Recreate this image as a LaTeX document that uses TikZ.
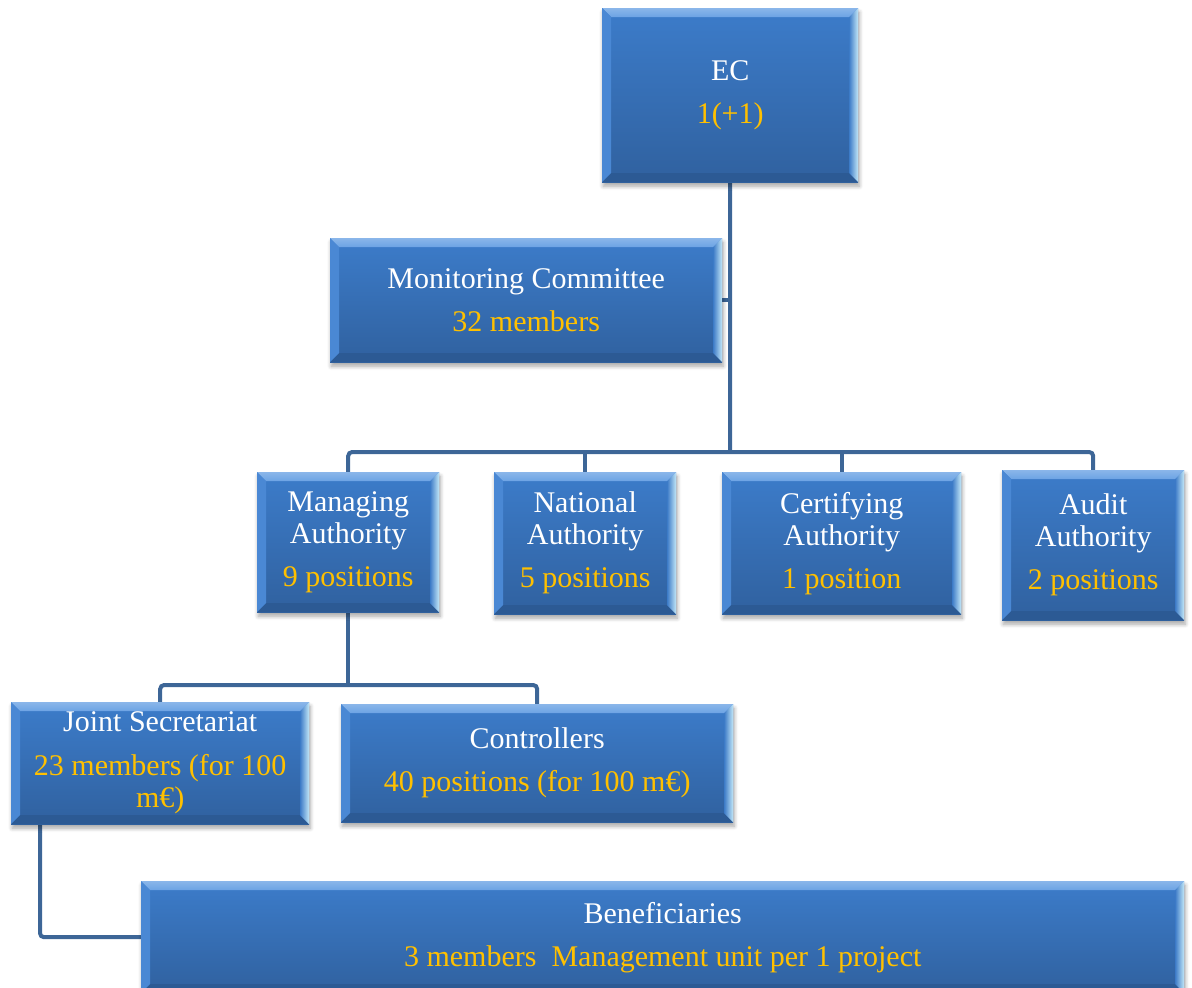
\documentclass[tikz,border=0pt]{standalone}
\usepackage{fontspec}
\setmainfont{Liberation Serif}
\usetikzlibrary{shadows,shadows.blur,backgrounds,calc}

\definecolor{faceTop}{HTML}{3C7CCA}
\definecolor{faceBot}{HTML}{30619F}
\definecolor{bevLight}{HTML}{6CA3E4}
\definecolor{bevLeft}{HTML}{4A88D4}
\definecolor{bevDark}{HTML}{2C5A94}
\definecolor{bevRight}{HTML}{3F7DC8}
\definecolor{edgeGlow}{HTML}{C4E8F8}
\definecolor{gold}{HTML}{FFC000}
\definecolor{linkBlue}{HTML}{3D6697}

\tikzset{
  orgbox/.style={
    rectangle, inner sep=0pt, anchor=north west, draw=none,
    text=white, align=center,
    font=\fontsize{30}{32}\selectfont,
    top color=faceTop, bottom color=faceBot,
    blur shadow={shadow xshift=1pt, shadow yshift=-4pt, shadow blur radius=4pt,
                 shadow blur steps=6, shadow opacity=35},
    path picture={
      \coordinate (bnw) at (path picture bounding box.north west);
      \coordinate (bne) at (path picture bounding box.north east);
      \coordinate (bsw) at (path picture bounding box.south west);
      \coordinate (bse) at (path picture bounding box.south east);
      % bevel faces
      \shade[top color=bevLight!80!white, bottom color=bevLight]
        (bnw) -- (bne) -- ([shift={(-9,9)}]bne) -- ([shift={(9,9)}]bnw) -- cycle;
      \fill[bevLeft] (bnw) -- ([shift={(9,9)}]bnw) -- ([shift={(9,-9)}]bsw) -- (bsw) -- cycle;
      \fill[bevDark] (bsw) -- ([shift={(9,-9)}]bsw) -- ([shift={(-9,-9)}]bse) -- (bse) -- cycle;
      \shade[left color=bevRight, right color=edgeGlow]
        (bne) -- (bse) -- ([shift={(-9,-9)}]bse) -- ([shift={(-9,9)}]bne) -- cycle;
    }
  },
  link/.style={draw=linkBlue, line width=4pt, rounded corners=4pt}
}

\newcommand{\gl}[1]{\textcolor{gold}{#1}}

\begin{document}
\begin{tikzpicture}[x=1pt,y=-1pt]
  \useasboundingbox (0,0) rectangle (1192,988);
  \clip (0,0) rectangle (1192,988);

  % boxes
  \node[orgbox, minimum width=256pt, minimum height=174pt] (ec) at (602,8)
    {EC\\[11pt]\gl{1(+1)}};
  \node[orgbox, minimum width=392pt, minimum height=124pt] (mc) at (330,238)
    {Monitoring Committee\\[11pt]\gl{32 members}};

  \node[orgbox, minimum width=182pt, minimum height=140pt] (ma) at (257,472)
    {Managing\\Authority\\[11pt]\gl{9 positions}};
  \node[orgbox, minimum width=182pt, minimum height=142pt] (na) at (494,472)
    {National\\Authority\\[11pt]\gl{5 positions}};
  \node[orgbox, minimum width=239pt, minimum height=142pt] (ca) at (722,472)
    {Certifying\\Authority\\[11pt]\gl{1 position}};
  \node[orgbox, minimum width=182pt, minimum height=150pt] (aa) at (1002,470)
    {Audit\\Authority\\[11pt]\gl{2 positions}};

  \node[orgbox, minimum width=298pt, minimum height=122pt] (js) at (11,702)
    {Joint Secretariat\\[12pt]\gl{23 members (for 100}\\\gl{m€)}};
  \node[orgbox, minimum width=392pt, minimum height=118pt] (ctl) at (341,704)
    {Controllers\\[11pt]\gl{40 positions (for 100 m€)}};

  \node[orgbox, minimum width=1043pt, minimum height=112pt] (ben) at (141,881)
    {Beneficiaries\\[11pt]\gl{3 members\ \ Management unit per 1 project}};

  % hubs of the connector tree
  \coordinate (hub) at (730,452);
  \coordinate (hubma) at (347,685);
  \coordinate (jsleg) at (40,824);

  \begin{scope}[on background layer]
    \draw[link] (ec.south) -- (hub);
    \draw[link] (mc.east) -- (mc.east -| hub);
    \draw[link] (ma.north) -- (ma.north |- hub) -- (aa.north |- hub) -- (aa.north);
    \draw[link] (na.north) -- (na.north |- hub);
    \draw[link] (ca.north) -- (ca.north |- hub);
    \draw[link] (ma.south) -- (ma.south |- hubma);
    \draw[link] (js.north) -- (js.north |- hubma) -- (ctl.north |- hubma) -- (ctl.north);
    \draw[link] (jsleg) |- (ben.west);
  \end{scope}
\end{tikzpicture}
\end{document}
